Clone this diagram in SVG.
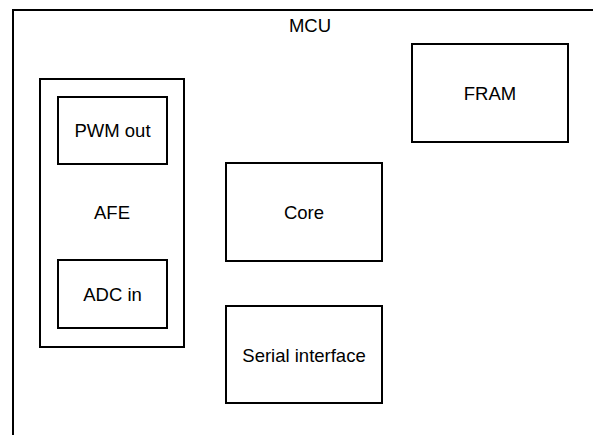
<svg xmlns="http://www.w3.org/2000/svg" width="593" height="435" viewBox="0 0 593 435">
<style>
rect{fill:#fff;stroke:#000;stroke-width:2}
text{font-family:"Liberation Sans",Arial,sans-serif;font-size:18.5px;fill:#000;text-anchor:middle}
</style>
<rect x="0" y="0" width="593" height="435" style="stroke:none"/>
<g id="mcu">
<rect x="13" y="10" width="620" height="460"/>
<text x="310" y="31.5">MCU</text>
</g>
<g id="afe">
<rect x="40" y="79" width="144" height="268"/>
<text x="112" y="219">AFE</text>
</g>
<g id="pwm">
<rect x="58" y="97" width="109" height="67"/>
<text x="112.5" y="137">PWM out</text>
</g>
<g id="adc">
<rect x="58" y="260" width="109" height="68"/>
<text x="112.5" y="300.5">ADC in</text>
</g>
<g id="fram">
<rect x="412" y="44" width="156" height="98"/>
<text x="490" y="99.5">FRAM</text>
</g>
<g id="core">
<rect x="226" y="163" width="156" height="98"/>
<text x="304" y="218.5">Core</text>
</g>
<g id="serial">
<rect x="226" y="306" width="156" height="97"/>
<text x="304" y="361.5">Serial interface</text>
</g>
<g id="connectors"></g>
</svg>
